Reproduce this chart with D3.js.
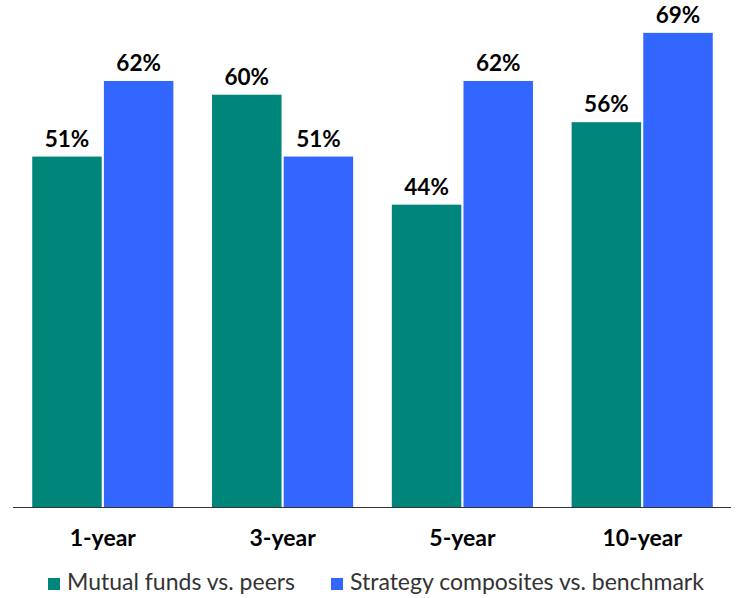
<!DOCTYPE html>
<html>
<head>
<meta charset="utf-8">
<script src="https://cdn.jsdelivr.net/npm/d3@7"></script>
<style>
  body { margin: 0; background: #fff; }
  svg { display: block; font-family: Lato, "Open Sans", sans-serif; }
</style>
</head>
<body>
<div id="chart"></div>
<script>
// chart data
var categories = ["1-year", "3-year", "5-year", "10-year"];
var seriesNames = ["Mutual funds vs. peers", "Strategy composites vs. benchmark"];
var mutualFunds = [51, 60, 44, 56];
var strategyComposites = [62, 51, 62, 69];
var colors = ["#00857a", "#3366ff"];

var width = 737, height = 598;

var data = categories.map(function(c, i) {
  return { cat: c, values: [mutualFunds[i], strategyComposites[i]] };
});

var svg = d3.select("#chart").append("svg")
  .attr("width", width)
  .attr("height", height);

var x0 = d3.scaleBand()
  .domain(categories)
  .range([13, 732])
  .paddingInner(0.215)
  .paddingOuter(0.107);

var x1 = d3.scaleBand()
  .domain([0, 1])
  .range([0, x0.bandwidth()])
  .paddingInner(0.03);

var y = d3.scaleLinear()
  .domain([0, 70])
  .range([507, 26]);

var groups = svg.selectAll(".grp")
  .data(data)
  .enter()
  .append("g")
  .attr("class", "grp")
  .attr("transform", function(d) { return "translate(" + x0(d.cat) + ",0)"; });

var bars = groups.selectAll("g.bar")
  .data(function(d) { return d.values.map(function(v, i) { return { i: i, v: v }; }); })
  .enter()
  .append("g")
  .attr("class", "bar");

bars.append("rect")
  .attr("x", function(d) { return x1(d.i); })
  .attr("y", function(d) { return y(d.v); })
  .attr("width", x1.bandwidth())
  .attr("height", function(d) { return y(0) - y(d.v); })
  .attr("fill", function(d) { return colors[d.i]; });

bars.append("text")
  .attr("x", function(d) { return x1(d.i) + x1.bandwidth() / 2; })
  .attr("y", function(d) { return y(d.v) - 10; })
  .attr("text-anchor", "middle")
  .style("font-size", "22.5px")
  .style("font-weight", "bold")
  .attr("fill", "#000")
  .text(function(d) { return d.v + "%"; });

// x axis
var xAxis = d3.axisBottom(x0).tickSize(0).tickPadding(0);
var ax = svg.append("g")
  .attr("transform", "translate(0," + y(0) + ")")
  .call(xAxis);
ax.select(".domain")
  .attr("d", "M13,0.5H731")
  .attr("stroke", "#333")
  .attr("stroke-width", 1.2);
ax.selectAll(".tick text")
  .attr("dy", 0)
  .attr("y", 39)
  .style("font-family", "Lato, 'Open Sans', sans-serif")
  .style("font-size", "23px")
  .style("font-weight", "bold")
  .attr("fill", "#000");

// legend
var legendX = [48, 331];
var legend = svg.selectAll(".legend")
  .data(seriesNames)
  .enter()
  .append("g")
  .attr("class", "legend")
  .attr("transform", function(d, i) { return "translate(" + legendX[i] + ",578)"; });

legend.append("rect")
  .attr("width", 12)
  .attr("height", 12)
  .attr("fill", function(d, i) { return colors[i]; });

legend.append("text")
  .attr("x", 19)
  .attr("y", 12)
  .style("font-size", "23px")
  .attr("fill", "#333")
  .text(function(d) { return d; });
</script>
</body>
</html>
